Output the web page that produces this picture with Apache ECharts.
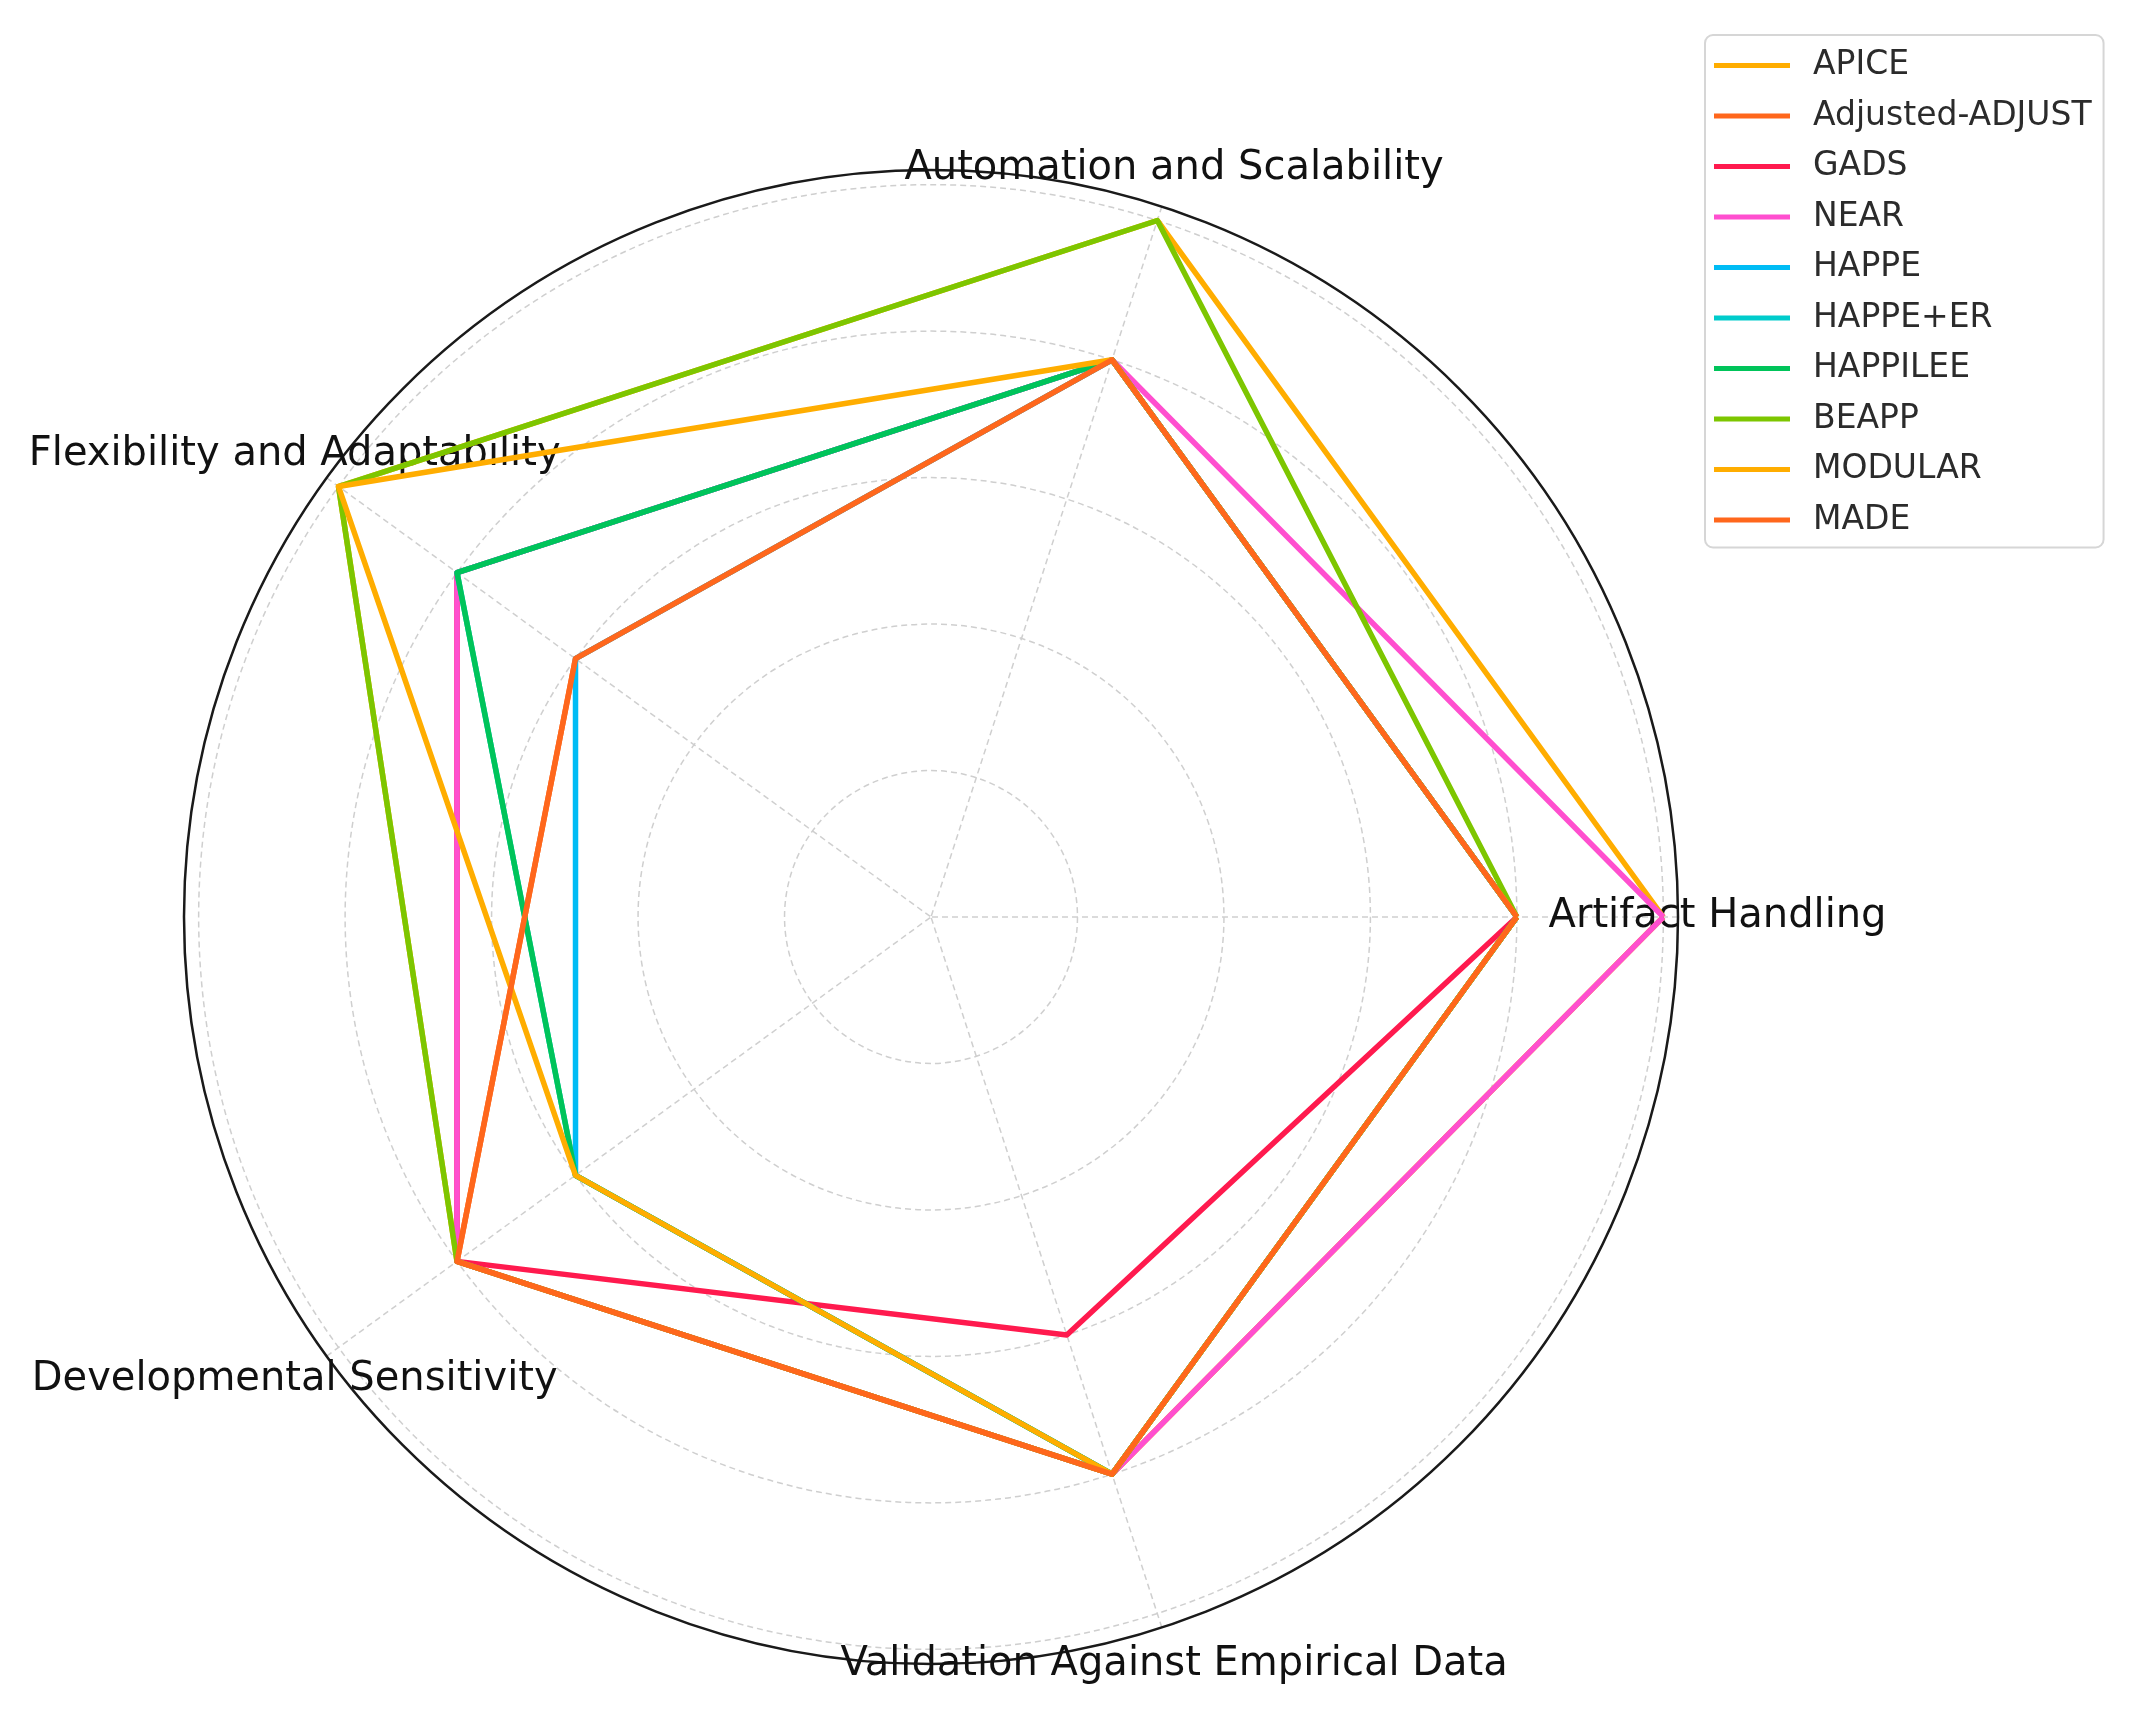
<!DOCTYPE html>
<html>
<head>
<meta charset="utf-8">
<script src="https://cdn.jsdelivr.net/npm/echarts@6/dist/echarts.min.js"></script>
<style>
html,body{margin:0;padding:0;background:#fff;}
#chart{width:2142px;height:1717px;}
</style>
</head>
<body>
<div id="chart"></div>
<script>
// Axes (counter-clockwise from the right)
const categories = ['Artifact Handling', 'Automation and Scalability', 'Flexibility and Adaptability', 'Developmental Sensitivity', 'Validation Against Empirical Data'];
const radialTicks = [1, 2, 3, 4, 5];

// Scores per pipeline, in the order of categories
const APICE          = [5, 5, 5, 4, 4];
const AdjustedADJUST = [4, 4, 3, 4, 4];
const GADS           = [4, 4, 4, 4, 3];
const NEAR           = [5, 4, 4, 4, 4];
const HAPPE          = [4, 4, 3, 3, 4];
const HAPPE_ER       = [4, 4, 4, 3, 4];
const HAPPILEE       = [4, 4, 4, 3, 4];
const BEAPP          = [4, 5, 5, 4, 4];
const MODULAR        = [4, 4, 5, 3, 4];
const MADE           = [4, 4, 3, 4, 4];

const seriesNames = ['APICE', 'Adjusted-ADJUST', 'GADS', 'NEAR', 'HAPPE', 'HAPPE+ER', 'HAPPILEE', 'BEAPP', 'MODULAR', 'MADE'];
const seriesValues = [APICE, AdjustedADJUST, GADS, NEAR, HAPPE, HAPPE_ER, HAPPILEE, BEAPP, MODULAR, MADE];
const seriesColors = ['#FFAD00', '#FF671C', '#FF1A4E', '#FF4FCF', '#00BCF5', '#00CCCC', '#00C45A', '#7DC600', '#FFAD00', '#FF671C'];

const step = 360 / categories.length;
const rMax = 5.1;
const labelR = 5.37;
const plotRadius = 747;
const labelPolarRadius = 820;

const series = seriesNames.map((name, k) => {
  const vals = seriesValues[k];
  const pts = vals.map((v, i) => [v, i * step]);
  pts.push([vals[0], 360]);
  return {
    name: name,
    type: 'line',
    coordinateSystem: 'polar',
    polarIndex: 0,
    data: pts,
    symbol: 'none',
    smooth: false,
    color: seriesColors[k],
    lineStyle: { width: 5.5, color: seriesColors[k], join: 'round' },
    z: 3
  };
});

series.push({
  name: '__labels',
  type: 'scatter',
  coordinateSystem: 'polar',
  polarIndex: 1,
  data: categories.map((c, i) => ({ value: [labelR, i * step], name: c })),
  symbolSize: 1,
  itemStyle: { color: 'rgba(0,0,0,0)' },
  silent: true,
  z: 1,
  label: {
    show: true,
    position: 'inside',
    formatter: p => p.name,
    fontFamily: 'DejaVu Sans',
    fontSize: 40,
    color: '#111111',
    opacity: 1
  },
  labelLayout: { hideOverlap: false }
});

const hiddenAxis = {
  axisLine: { show: false }, axisTick: { show: false }, axisLabel: { show: false }, splitLine: { show: false }
};

const chart = echarts.init(document.getElementById('chart'), null, { renderer: 'canvas' });
chart.setOption({
  backgroundColor: '#ffffff',
  animation: false,
  polar: [
    { center: [931, 917], radius: plotRadius },
    { center: [931, 917], radius: labelPolarRadius }
  ],
  radiusAxis: [
    {
      polarIndex: 0,
      type: 'value', min: 0, max: rMax, interval: 1,
      axisLine: { show: false }, axisTick: { show: false }, axisLabel: { show: false },
      splitLine: { show: true, lineStyle: { color: '#cfcfcf', width: 1.5, type: [6, 4] } }
    },
    Object.assign({ polarIndex: 1, type: 'value', min: 0, max: rMax * labelPolarRadius / plotRadius }, hiddenAxis)
  ],
  angleAxis: [
    {
      polarIndex: 0,
      type: 'value', min: 0, max: 360, interval: step, startAngle: 0, clockwise: false,
      axisLine: { show: true, lineStyle: { color: '#1a1a1a', width: 2.5 } },
      axisTick: { show: false }, axisLabel: { show: false },
      splitLine: { show: true, lineStyle: { color: '#cfcfcf', width: 1.5, type: [6, 4] } }
    },
    Object.assign({ polarIndex: 1, type: 'value', min: 0, max: 360, interval: step, startAngle: 0, clockwise: false }, hiddenAxis)
  ],
  legend: {
    data: seriesNames.map((n, k) => ({ name: n, icon: 'rect' })),
    orient: 'vertical',
    left: 1705, top: 35,
    padding: [14, 12, 11, 9],
    itemWidth: 76, itemHeight: 5, itemGap: 17.5,
    borderColor: '#d6d6d6', borderWidth: 2, borderRadius: 8,
    backgroundColor: '#ffffff',
    textStyle: { fontFamily: 'DejaVu Sans', fontSize: 33, lineHeight: 32.5, color: '#2b2b2b', padding: [0, 0, 0, 18] }
  },
  series: series
});
</script>
</body>
</html>
